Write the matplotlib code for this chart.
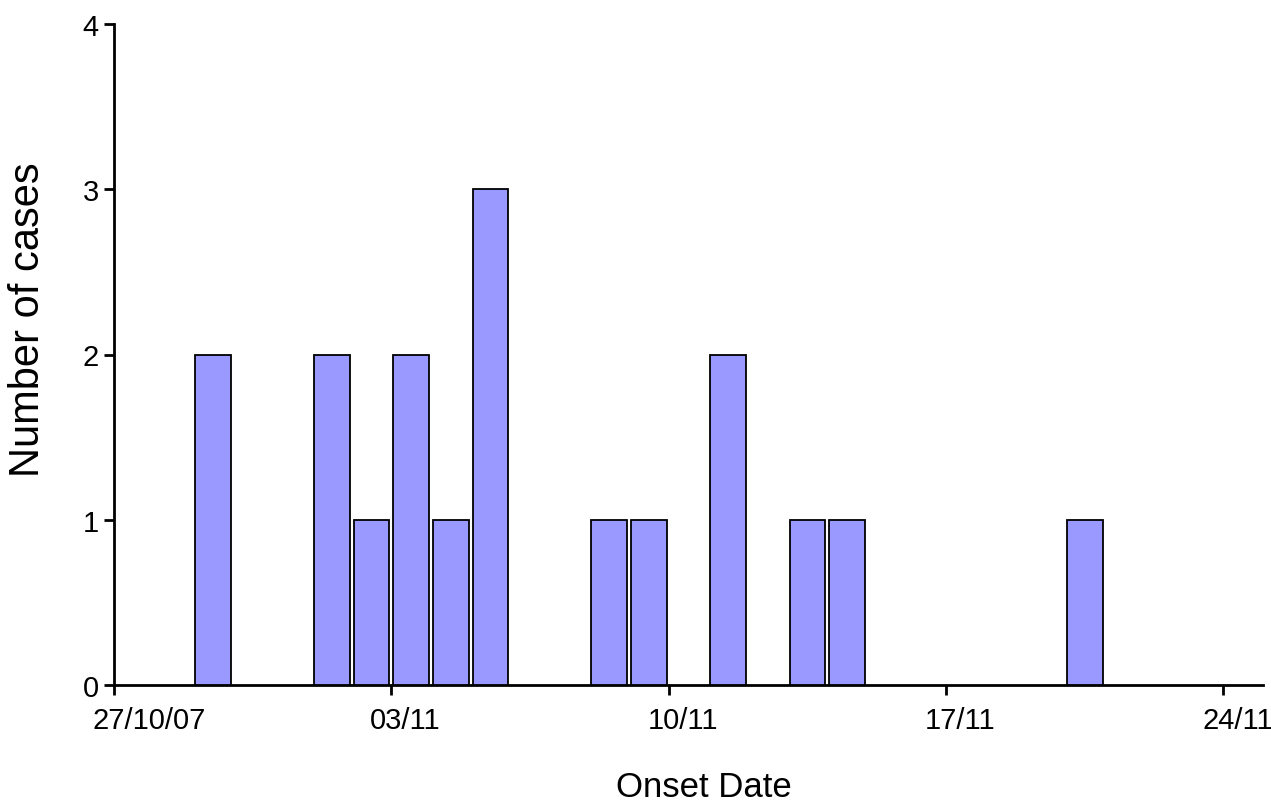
import matplotlib
matplotlib.use("Agg")
import matplotlib.pyplot as plt
import matplotlib.dates as mdates
import matplotlib.transforms as mtransforms
import datetime as dt

onset_dates = ["2007-10-29", "2007-11-01", "2007-11-02", "2007-11-03", "2007-11-04",
               "2007-11-05", "2007-11-08", "2007-11-09", "2007-11-11", "2007-11-13",
               "2007-11-14", "2007-11-20"]
cases = [2, 2, 1, 2, 1, 3, 1, 1, 2, 1, 1, 1]
tick_dates = ["2007-10-27", "2007-11-03", "2007-11-10", "2007-11-17", "2007-11-24"]
tick_labels = ["27/10/07", "03/11", "10/11", "17/11", "24/11"]

plt.rcParams['font.family'] = ['Liberation Sans', 'DejaVu Sans']

W, H = 1271, 803
fig = plt.figure(figsize=(W / 100, H / 100), dpi=100)
ax = fig.add_axes([114 / W, 1 - 686 / H, (1263 - 114) / W, (686 - 25) / H])

x = mdates.date2num([dt.datetime.fromisoformat(d) for d in onset_dates])
ax.bar(x + 0.5, cases, width=0.9, color="#9999FF", edgecolor="black", linewidth=1.3, zorder=3)

start = mdates.date2num(dt.datetime.fromisoformat("2007-10-27"))
ax.set_xlim(start, start + 29)
ax.set_ylim(0, 4)
ax.set_yticks([0, 1, 2, 3, 4])
ax.set_xticks(mdates.date2num([dt.datetime.fromisoformat(d) for d in tick_dates]))
ax.set_xticklabels(tick_labels)

for s in ["top", "right"]:
    ax.spines[s].set_visible(False)
for s in ["left", "bottom"]:
    ax.spines[s].set_linewidth(2)
ax.tick_params(axis="both", direction="out", length=7, width=2, labelsize=21, colors="black")
ax.tick_params(axis="x", pad=8)
ax.tick_params(axis="y", pad=4)

offset = mtransforms.ScaledTranslation(-21 / 100, 0, fig.dpi_scale_trans)
for lab in ax.get_xticklabels():
    lab.set_horizontalalignment("left")
    lab.set_transform(lab.get_transform() + offset)

fig.text(704 / W, 1 - 797 / H, "Onset Date", fontsize=25, ha="center", va="baseline")
fig.text(28 / W, 1 - 320 / H, "Number of cases", fontsize=30, ha="center", va="center", rotation=90)

fig.savefig("out.png", dpi=100)
